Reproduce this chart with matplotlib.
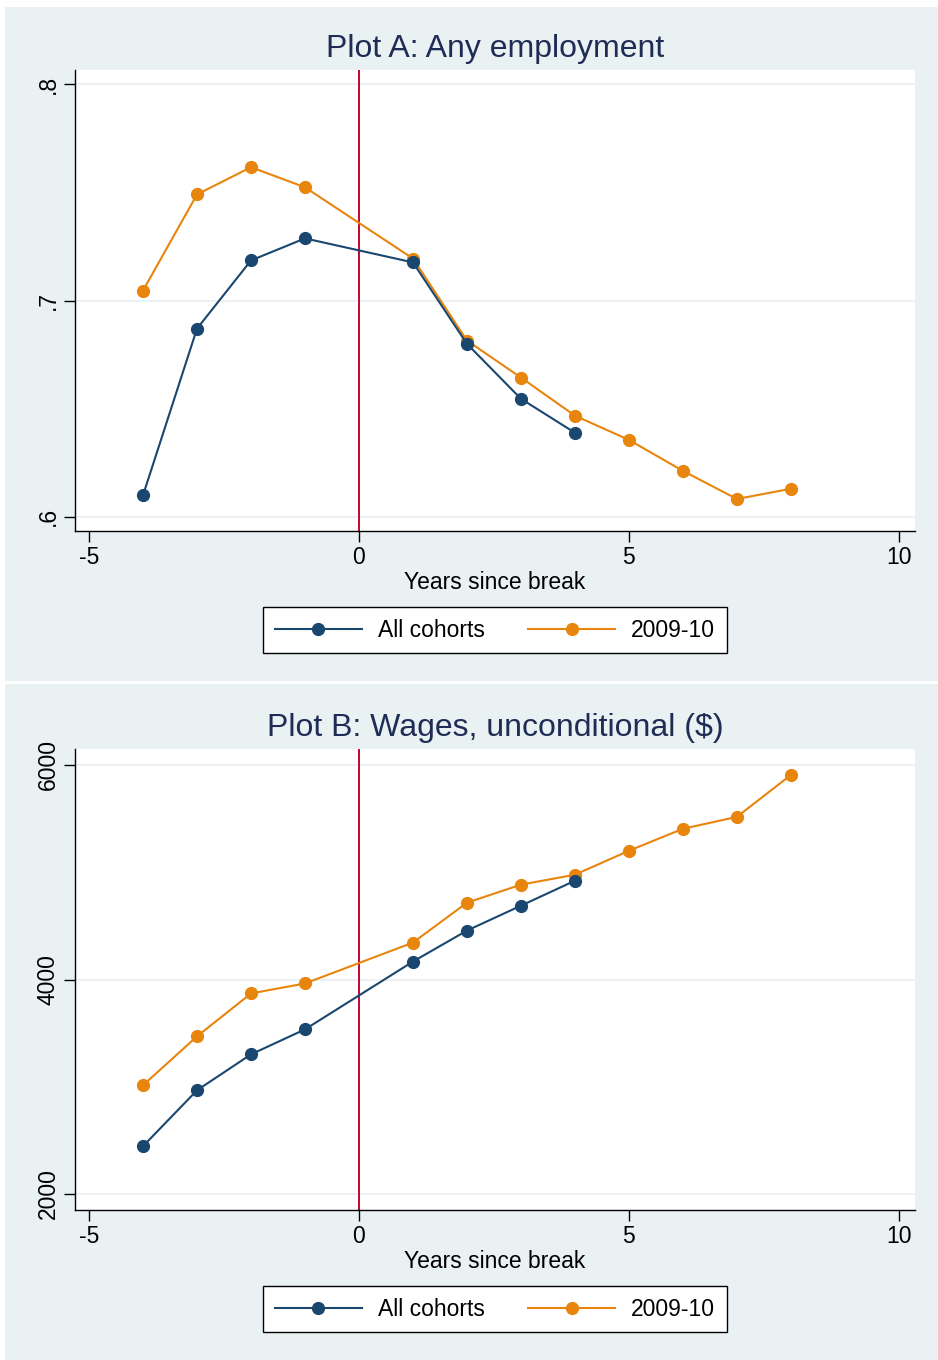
import numpy as np
import matplotlib
matplotlib.use("Agg")
import matplotlib.pyplot as plt
from matplotlib.patches import Rectangle

plt.rcParams['font.family'] = ['Liberation Sans', 'DejaVu Sans']

# years relative to the break
years_all = [-4, -3, -2, -1, 1, 2, 3, 4]
years_0910 = [-4, -3, -2, -1, 1, 2, 3, 4, 5, 6, 7, 8]

# Plot A: share with any employment
emp_all = [0.610, 0.687, 0.7185, 0.7287, 0.7176, 0.680, 0.6546, 0.6389]
emp_0910 = [0.7046, 0.749, 0.7616, 0.7523, 0.7194, 0.6815, 0.6644, 0.6468,
            0.6356, 0.6213, 0.6083, 0.613]

# Plot B: unconditional wages ($)
wage_all = [2446, 2967, 3302, 3535, 4167, 4456, 4688, 4921]
wage_0910 = [3014, 3470, 3870, 3963, 4344, 4716, 4884, 4977,
             5200, 5405, 5516, 5907]

xticks = [-5, 0, 5, 10]
emp_ticks = [0.6, 0.7, 0.8]
emp_ticklabels = ['.6', '.7', '.8']
wage_ticks = [2000, 4000, 6000]

NAVY = '#1a476f'
ORANGE = '#e8850c'
RED = '#c10534'
BG = '#eaf1f3'
TITLE_C = '#1f2d56'

W, H = 938, 1360
fig = plt.figure(figsize=(W / 100, H / 100), dpi=100)
fig.patch.set_facecolor('white')


def px(x0, y0, x1, y1):
    # pixel box (top-left origin) -> figure fraction rect
    return [x0 / W, 1 - y1 / H, (x1 - x0) / W, (y1 - y0) / H]


# panel backgrounds
for (y0, y1) in [(7, 681), (684, 1360)]:
    fig.patches.append(Rectangle((5 / W, 1 - y1 / H), (W - 5) / W, (y1 - y0) / H,
                                 transform=fig.transFigure, facecolor=BG,
                                 edgecolor='none', zorder=-10))


def panel(top, title, xa, ya, xb, yb, ylim, yticks, yticklabels):
    ax = fig.add_axes(px(75, top, 915, top + 461))
    ax.set_facecolor('white')
    for y in yticks:
        ax.axhline(y, color=BG, lw=1.3, zorder=0)
    ax.axvline(0, color=RED, lw=1.4, zorder=1)
    ax.plot(xa, ya, color=NAVY, lw=1.5, marker='o', ms=8.5, label='All cohorts', zorder=3)
    ax.plot(xb, yb, color=ORANGE, lw=1.5, marker='o', ms=8.5, label='2009-10', zorder=2)
    ax.set_xlim(-5.26, 10.3)
    ax.set_ylim(*ylim)
    ax.set_xticks(xticks)
    ax.set_xticklabels([str(t) for t in xticks])
    ax.set_yticks(yticks)
    ax.set_yticklabels(yticklabels, rotation=90, va='center')
    for s in ['top', 'right']:
        ax.spines[s].set_visible(False)
    for s in ['left', 'bottom']:
        ax.spines[s].set_linewidth(1.0)
    ax.tick_params(direction='out', length=8, width=1.0, labelsize=16.5, pad=3)
    ax.set_xlabel('Years since break', fontsize=16.5, labelpad=1)
    ax.set_title(title, fontsize=23, color=TITLE_C, pad=9)
    leg = ax.legend(loc='upper center', bbox_to_anchor=(0.5, -0.165), ncol=2,
                    fontsize=16.5, frameon=True, fancybox=False, edgecolor='black',
                    framealpha=1, handlelength=3.8, columnspacing=1.9, borderpad=0.5,
                    handletextpad=0.7, borderaxespad=0)
    leg.get_frame().set_linewidth(1.0)
    return ax


panel(70, 'Plot A: Any employment', years_all, emp_all, years_0910, emp_0910,
      (0.5935, 0.8065), emp_ticks, emp_ticklabels)
panel(749, 'Plot B: Wages, unconditional ($)', years_all, wage_all, years_0910, wage_0910,
      (1851, 6149), wage_ticks, [str(t) for t in wage_ticks])

fig.savefig('out.png', dpi=100)
